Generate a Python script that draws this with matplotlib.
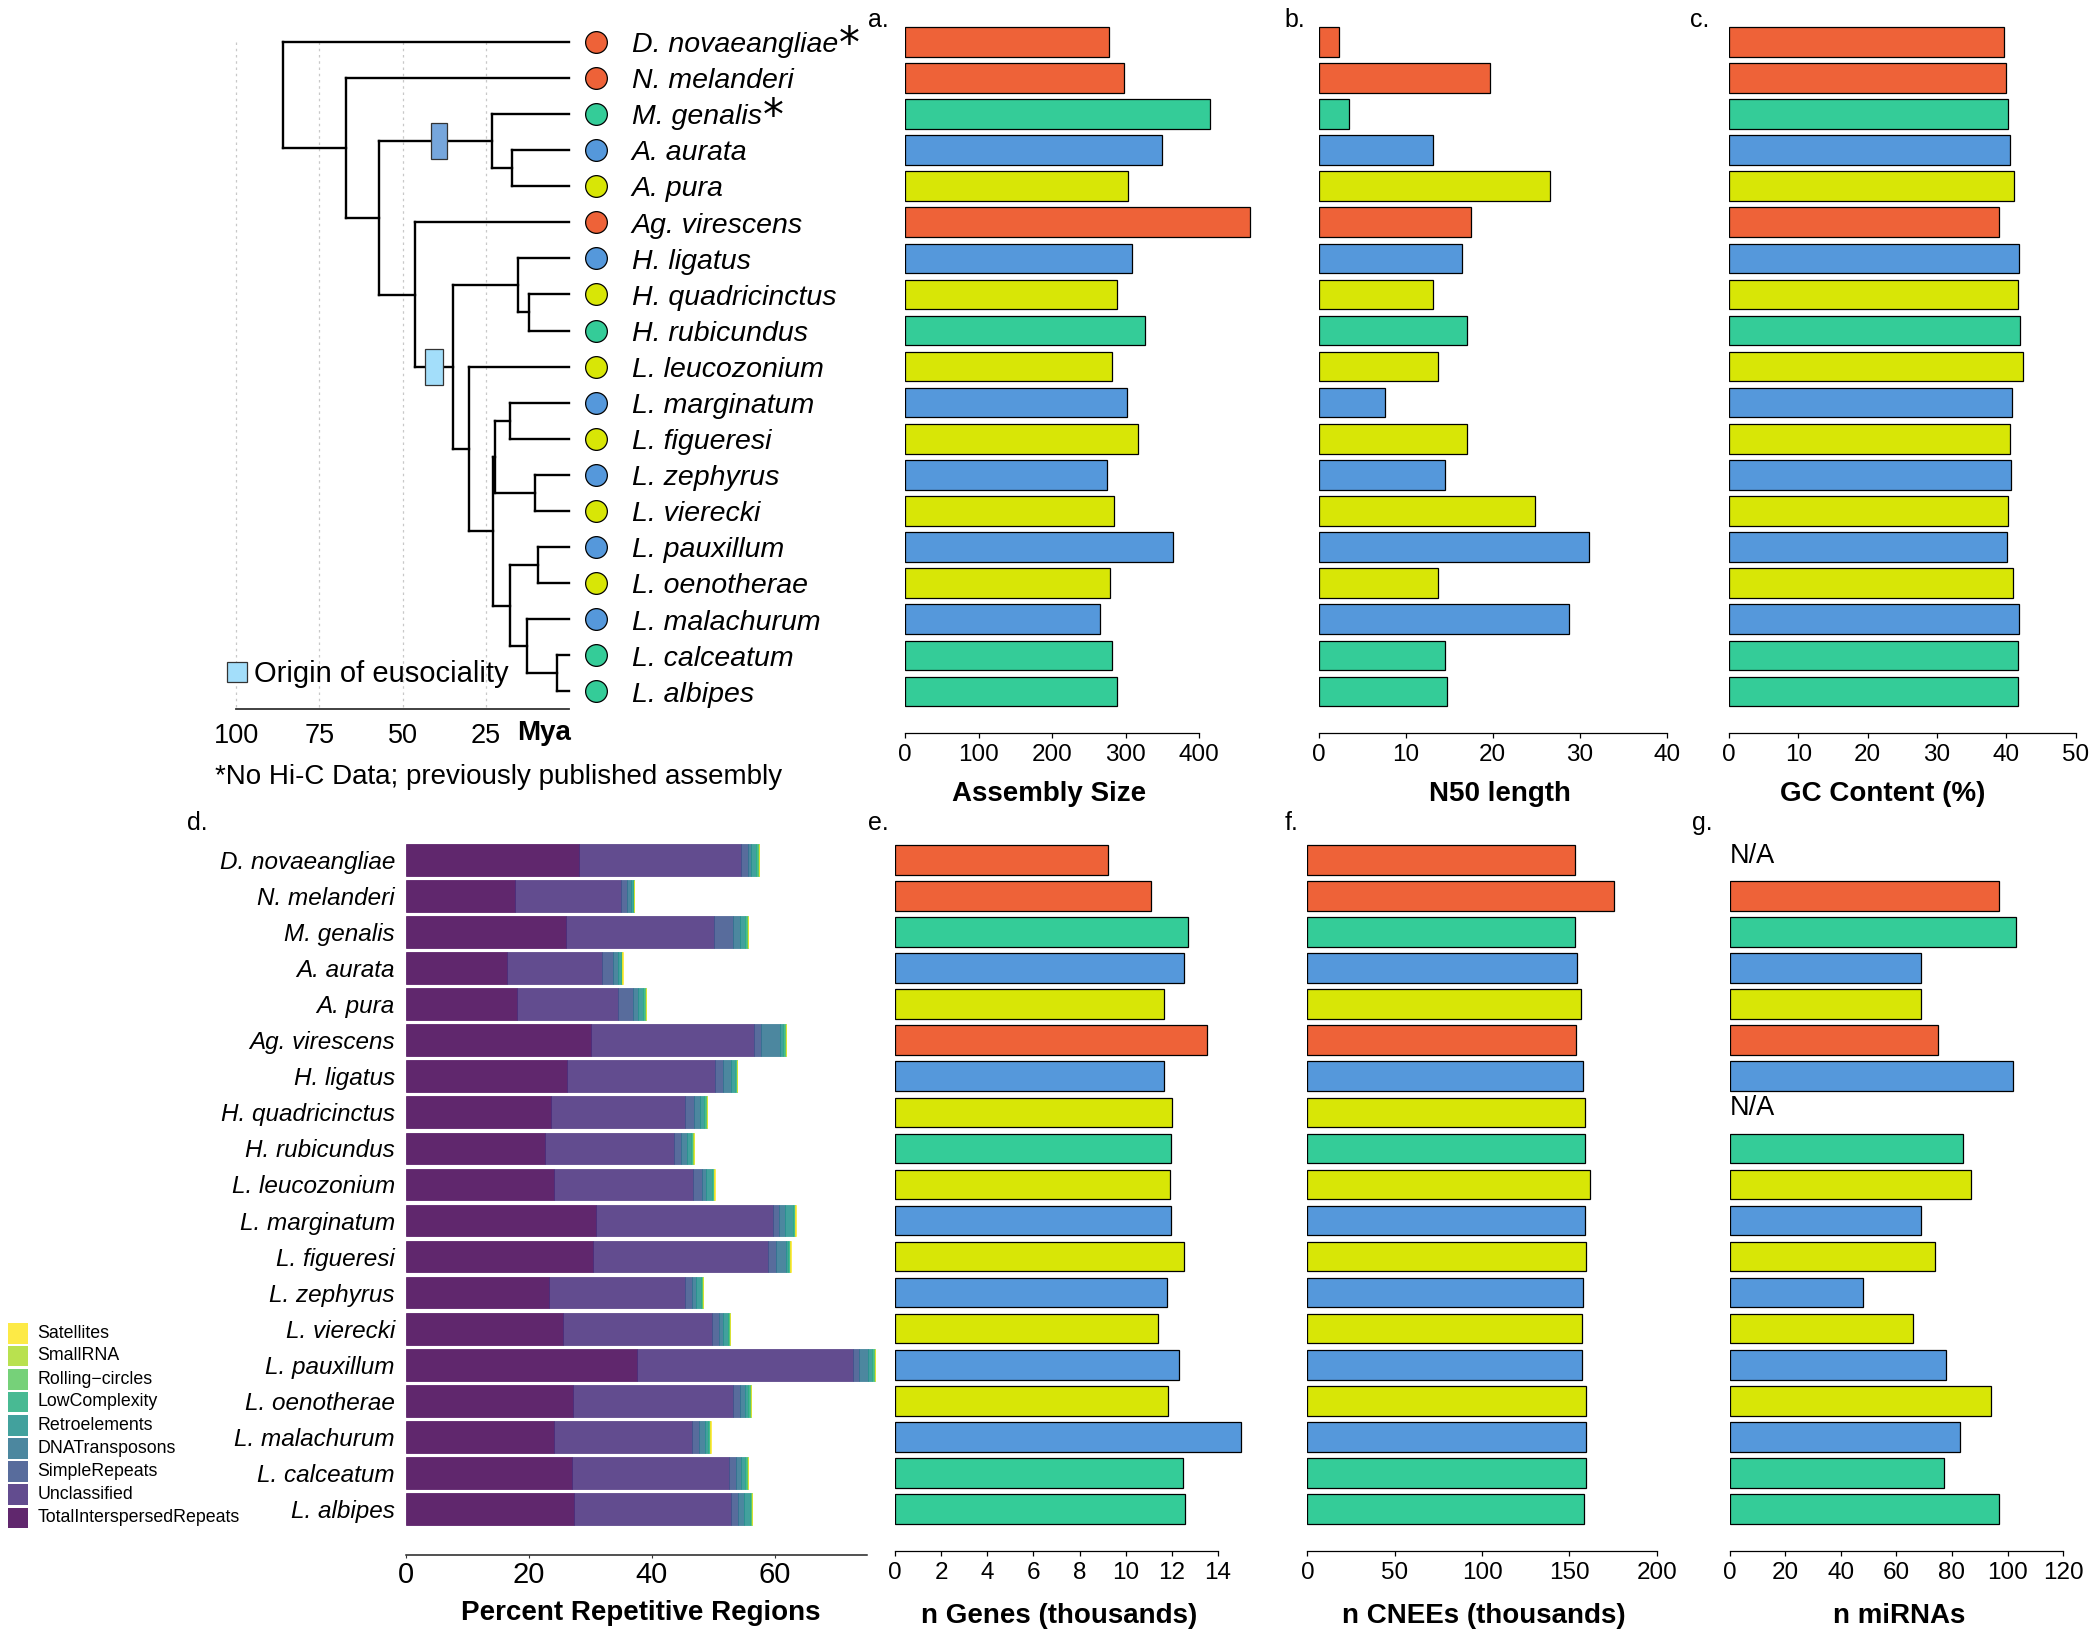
import matplotlib
matplotlib.use('Agg')
import matplotlib.pyplot as plt
import numpy as np
from matplotlib.patches import Rectangle

plt.rcParams['font.family'] = ['Liberation Sans', 'DejaVu Sans']

# ---------------- data ----------------
species = ["D. novaeangliae", "N. melanderi", "M. genalis", "A. aurata", "A. pura",
           "Ag. virescens", "H. ligatus", "H. quadricinctus", "H. rubicundus",
           "L. leucozonium", "L. marginatum", "L. figueresi", "L. zephyrus",
           "L. vierecki", "L. pauxillum", "L. oenotherae", "L. malachurum",
           "L. calceatum", "L. albipes"]
no_hic = ["D. novaeangliae", "M. genalis"]
group = ["orange", "orange", "green", "blue", "yellow", "orange", "blue", "yellow",
         "green", "yellow", "blue", "yellow", "blue", "yellow", "blue", "yellow",
         "blue", "green", "green"]
group_colors = {"orange": "#EE6238", "green": "#34CC98", "blue": "#5598DB",
                "yellow": "#D8E606"}

assembly_size = [278, 298, 415, 349, 303, 469, 309, 289, 327, 281, 302, 317, 275,
                 285, 364, 279, 265, 282, 288]
n50_length = [2.4, 19.7, 3.5, 13.2, 26.6, 17.5, 16.5, 13.2, 17.1, 13.7, 7.6, 17.0,
              14.5, 24.8, 31.0, 13.7, 28.8, 14.5, 14.8]
gc_content = [39.6, 39.9, 40.3, 40.5, 41.1, 39.0, 41.8, 41.6, 41.9, 42.4, 40.8, 40.5,
              40.7, 40.2, 40.1, 41.0, 41.8, 41.7, 41.7]
n_genes = [9.23, 11.08, 12.70, 12.53, 11.67, 13.52, 11.67, 12.01, 11.98, 11.94, 11.98,
           12.53, 11.80, 11.39, 12.32, 11.84, 15.00, 12.49, 12.59]
n_cnees = [153.0, 175.6, 153.4, 154.3, 156.6, 153.8, 157.5, 158.8, 158.8, 162.0, 158.8,
           159.3, 157.9, 157.0, 157.0, 159.3, 159.7, 159.3, 158.4]
n_mirnas = [np.nan, 97, 103, 69, 69, 75, 102, np.nan, 84, 87, 69, 74, 48, 66, 78, 94,
            83, 77, 97]

repeat_types = ["TotalInterspersedRepeats", "Unclassified", "SimpleRepeats",
                "DNATransposons", "Retroelements", "LowComplexity", "Rolling\u2212circles",
                "SmallRNA", "Satellites"]
rep_total_interspersed = [28.1, 17.7, 26.0, 16.4, 18.0, 30.0, 26.1, 23.5, 22.6, 24.1,
                          30.9, 30.4, 23.3, 25.5, 37.5, 27.2, 24.0, 27.0, 27.3]
rep_unclassified = [26.4, 17.2, 24.0, 15.4, 16.5, 26.6, 24.1, 21.9, 20.9, 22.6, 28.7,
                    28.5, 22.1, 24.3, 35.2, 26.0, 22.5, 25.6, 25.6]
rep_simple = [1.1, 1.0, 3.1, 1.9, 2.4, 1.1, 1.35, 1.45, 1.25, 1.45, 1.1, 1.2, 1.1, 1.15,
              1.0, 1.1, 1.15, 1.0, 1.1]
rep_dna = [0.55, 0.65, 1.2, 0.8, 0.8, 3.1, 1.25, 1.0, 0.9, 0.7, 1.0, 1.7, 0.7, 0.55,
           1.35, 0.8, 0.9, 0.9, 1.0]
rep_retro = [0.8, 0.3, 0.8, 0.4, 0.8, 0.5, 0.65, 0.65, 0.7, 0.9, 1.3, 0.3, 0.8, 0.8,
             0.8, 0.55, 0.55, 0.65, 0.9]
rep_lowcomplexity = [0.3, 0.15, 0.4, 0.2, 0.4, 0.4, 0.3, 0.3, 0.3, 0.3, 0.2, 0.3, 0.2,
                     0.3, 0.3, 0.3, 0.3, 0.3, 0.2]
rep_rolling = [0.08] * 19
rep_smallrna = [0.02] * 19
rep_satellites = [0.05] * 19
rep_series = [rep_total_interspersed, rep_unclassified, rep_simple, rep_dna, rep_retro,
              rep_lowcomplexity, rep_rolling, rep_smallrna, rep_satellites]

# tree: (node name, age in Mya, children); leaves are species indices
tree = ("root", 85.8, [0, ("n1", 67.0, [1, ("n2", 57.0, [
    ("n3", 23.3, [2, ("n4", 17.2, [3, 4])]),
    ("n5", 46.3, [5, ("n6", 34.8, [
        ("n7", 15.5, [6, ("n8", 12.2, [7, 8])]),
        ("n9", 30.0, [9, ("n10", 22.8, [
            ("n11", 22.2, [("n12", 17.7, [10, 11]), ("n13", 10.3, [12, 13])]),
            ("n14", 17.8, [("n15", 9.5, [14, 15]),
                           ("n16", 12.7, [16, ("n17", 3.7, [17, 18])])])])])])])])])])
# eusociality origins: (branch ending at node, younger age, older age)
eusocial_origins = [("n3", 36.7, 41.6), ("n6", 38.0, 43.3)]
eusocial_colors = ["#76A6DC", "#A3DEFA"]

# ---------------- layout helpers ----------------
W, H = 2100, 1634
fig = plt.figure(figsize=(W / 100, H / 100), dpi=100)
fig.patch.set_facecolor('white')


def add_ax(x0, x1, ytop, ybot):
    return fig.add_axes([x0 / W, 1 - ybot / H, (x1 - x0) / W, (ybot - ytop) / H])


TOP_ROW0, TOP_DY, TOP_AXIS = 41.8, 36.09, 733.0
BOT_ROW0, BOT_DY, BOT_AXIS = 859.9, 36.06, 1551.0
rows = np.arange(len(species))
bar_cols = [group_colors[g] for g in group]


def r_panel(x0, ppu, xmax, row0, dy, axis_px, vals, ticks):
    ax = add_ax(x0, x0 + xmax * ppu, row0 - 0.6 * dy, axis_px)
    ax.set_ylim((axis_px - row0) / dy, -0.6)
    ax.set_xlim(0, xmax)
    v = np.array(vals, dtype=float)
    ok = ~np.isnan(v)
    ax.barh(rows[ok], v[ok], height=0.82, color=np.array(bar_cols)[ok],
            edgecolor='black', linewidth=0.9)
    for s in ['left', 'top', 'right']:
        ax.spines[s].set_visible(False)
    ax.spines['bottom'].set_bounds(ticks[0], ticks[-1])
    ax.spines['bottom'].set_linewidth(0.9)
    ax.set_yticks([])
    ax.set_xticks(ticks)
    ax.set_xticklabels([str(t) for t in ticks])
    ax.tick_params(axis='x', length=3.6, width=0.9, pad=4.0, labelsize=17.5)
    ax.patch.set_alpha(0)
    return ax


# top panels
r_panel(905, 0.735, 480, TOP_ROW0, TOP_DY, TOP_AXIS, assembly_size, [0, 100, 200, 300, 400])
r_panel(1318.5, 8.71, 42, TOP_ROW0, TOP_DY, TOP_AXIS, n50_length, [0, 10, 20, 30, 40])
r_panel(1728.8, 6.94, 52, TOP_ROW0, TOP_DY, TOP_AXIS, gc_content, [0, 10, 20, 30, 40, 50])
# bottom panels
r_panel(895, 23.07, 15.4, BOT_ROW0, BOT_DY, BOT_AXIS, n_genes, list(range(0, 15, 2)))
r_panel(1307.4, 1.747, 205, BOT_ROW0, BOT_DY, BOT_AXIS, n_cnees, [0, 50, 100, 150, 200])
axg = r_panel(1729.6, 2.78, 122, BOT_ROW0, BOT_DY, BOT_AXIS, n_mirnas,
              [0, 20, 40, 60, 80, 100, 120])
for i, v in enumerate(n_mirnas):
    if np.isnan(v):
        axg.text(0, i + 0.08, "N/A", ha='left', va='baseline', fontsize=19.5, clip_on=False)

# ---------------- panel d: stacked repeats ----------------
D_AXIS = 1555.0
d_ppu = 6.15
axd = add_ax(406, 406 + 76.5 * d_ppu, BOT_ROW0 - 0.6 * BOT_DY, D_AXIS)
axd.set_ylim((D_AXIS - BOT_ROW0) / BOT_DY, -0.6)
axd.set_xlim(0, 76.5)
vir = plt.cm.viridis(np.linspace(0, 1, len(repeat_types)))
left = np.zeros(len(species))
for k, series in enumerate(rep_series):
    vals = np.array(series)
    fc = (*vir[k][:3], 0.85)
    axd.barh(rows, vals, left=left, height=0.88, color=fc,
             edgecolor=(*vir[k][:3], 0.9), linewidth=0.5)
    left += vals
for s in ['left', 'top', 'right']:
    axd.spines[s].set_visible(False)
axd.spines['bottom'].set_bounds(0, 75)
axd.spines['bottom'].set_linewidth(1.1)
axd.spines['bottom'].set_color('#222222')
axd.set_xticks([0, 20, 40, 60])
axd.tick_params(axis='x', length=2.5, width=0.8, color='#333333', pad=2.0, labelsize=21)
axd.set_yticks(rows)
axd.set_yticklabels(species, fontstyle='italic', fontsize=17.5)
axd.tick_params(axis='y', length=0, pad=8)
axd.patch.set_alpha(0)

# legend for d
leg_y = [1333.3, 1356.0, 1379.3, 1402.0, 1425.3, 1448.7, 1471.3, 1494.7, 1518.0]
for j, name in enumerate(repeat_types[::-1]):
    k = len(repeat_types) - 1 - j
    yc = leg_y[j]
    fig.add_artist(Rectangle((8.3 / W, 1 - (yc + 10.3) / H), 20.0 / W, 20.6 / H,
                             transform=fig.transFigure, facecolor=(*vir[k][:3], 0.85),
                             edgecolor='none'))
    fig.text(37.3 / W, 1 - yc / H, name, ha='left', va='center', fontsize=12.8)

# ---------------- tree ----------------
TIP_PX, PPU_T = 569.4, 3.333
tx0, tx1 = 200.0, 880.0
axt = add_ax(tx0, tx1, TOP_ROW0 - 0.6 * TOP_DY, 709.3)
axt.set_xlim((TIP_PX - tx0) / PPU_T, (TIP_PX - tx1) / PPU_T)
axt.set_ylim((709.3 - TOP_ROW0) / TOP_DY, -0.6)
for s in ['left', 'top', 'right']:
    axt.spines[s].set_visible(False)
axt.spines['bottom'].set_bounds(0, 100)
axt.spines['bottom'].set_linewidth(1.3)
axt.spines['bottom'].set_color('#333333')
axt.set_yticks([])
axt.set_xticks([100, 75, 50, 25])
axt.set_xticklabels(['100', '75', '50', '25'])
axt.tick_params(axis='x', length=0, pad=10, labelsize=19.5)
axt.patch.set_alpha(0)

ymax_t = (709.3 - TOP_ROW0) / TOP_DY
for g in [100, 75, 50, 25]:
    axt.plot([g, g], [0, ymax_t], color='#c8c8c8', lw=0.9, ls=(0, (2, 3)), zorder=0)

node_y = {}
LW = 1.7


def draw(node, parent_age):
    if isinstance(node, int):
        y, age = float(node), 0.0
    else:
        name, age, children = node
        ys = [draw(c, age) for c in children]
        y = float(np.mean(ys))
        node_y[name] = y
        axt.plot([age, age], [min(ys), max(ys)], color='black', lw=LW,
                 solid_capstyle='projecting', zorder=2)
    if parent_age is not None:
        axt.plot([parent_age, age], [y, y], color='black', lw=LW,
                 solid_capstyle='projecting', zorder=2)
    return y


draw(tree, None)

for (nm, a0, a1), col in zip(eusocial_origins, eusocial_colors):
    yb = node_y[nm]
    axt.add_patch(Rectangle((a0, yb - 0.5), a1 - a0, 1.0, facecolor=col,
                            edgecolor='#333333', lw=0.9, zorder=3))

# legend for eusociality
axt.add_patch(Rectangle((96.7, 17.18), 6.1, 0.55, facecolor=eusocial_colors[1],
                        edgecolor='#333333', lw=0.9, zorder=3, clip_on=False))
axt.text(94.5, 17.45 + 0.28, "Origin of eusociality", ha='left', va='baseline',
         fontsize=21, clip_on=False)

# tip circles and labels
renderer = fig.canvas.get_renderer()
for i, sp in enumerate(species):
    axt.scatter([-8.1], [i], s=245, color=bar_cols[i], edgecolor='black',
                linewidth=0.9, zorder=4, clip_on=False)
    t = axt.text(-18.7, i + 0.285, sp, fontstyle='italic', fontsize=20.5, ha='left',
                 va='baseline', clip_on=False)
    if sp in no_hic:
        bb = t.get_window_extent(renderer)
        xd = axt.transData.inverted().transform((bb.x1 + 1, 0))[0]
        axt.text(xd, i + 0.42, '*', fontsize=30, family='DejaVu Sans', ha='left',
                 va='baseline', clip_on=False)

axt.text(-0.5, (733 - TOP_ROW0) / TOP_DY, "Mya", ha='right', va='center',
         fontsize=20, fontweight='bold', clip_on=False)
fig.text(215 / W, 1 - 776.7 / H, "*No Hi-C Data; previously published assembly",
         ha='left', va='center', fontsize=20)

# ---------------- axis titles & panel letters ----------------
xlabels = [("Assembly Size", 1049, 794.5), ("N50 length", 1500, 794.5),
           ("GC Content (%)", 1883, 794.5), ("Percent Repetitive Regions", 641, 1613),
           ("n Genes (thousands)", 1059, 1615.6), ("n CNEEs (thousands)", 1484, 1615.6),
           ("n miRNAs", 1899, 1615.6)]
for txt, x, y in xlabels:
    fig.text(x / W, 1 - y / H, txt, ha='center', va='center', fontsize=20,
             fontweight='bold')

letters = [("a.", 868, 20), ("b.", 1284.5, 20), ("c.", 1690, 20), ("d.", 187, 823),
           ("e.", 868, 823), ("f.", 1284.5, 823), ("g.", 1691.6, 823)]
for txt, x, y in letters:
    fig.text(x / W, 1 - y / H, txt, ha='left', va='center', fontsize=18)

fig.savefig('out.png', dpi=100, facecolor='white')
